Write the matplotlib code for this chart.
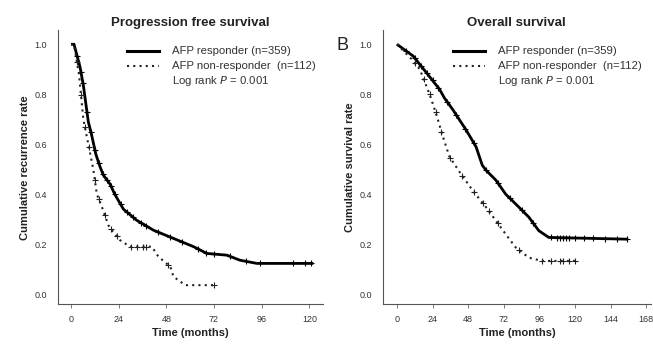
import numpy as np
import matplotlib.pyplot as plt

plt.rcParams['font.family'] = ['Liberation Sans', 'DejaVu Sans']

# Progression free survival (months, rate)
pfs_resp_t = [0, 1.5, 4.5, 6.2, 8.7, 10.4, 12.5, 14.6, 16.3, 19.7, 22, 26.4, 33, 41.5, 51.6, 61.7, 68.4, 78.5, 85, 93.6, 122]
pfs_resp_y = [1.0, 1.0, 0.91, 0.836, 0.69, 0.636, 0.56, 0.51, 0.476, 0.44, 0.40, 0.34, 0.296, 0.256, 0.223, 0.19, 0.163, 0.156, 0.136, 0.123, 0.123]
pfs_non_t = [0, 1.5, 4, 6.2, 8.7, 11.2, 13, 15.5, 18.8, 20.5, 24.7, 29.7, 40.7, 44, 50, 51.6, 57.5, 73.4]
pfs_non_y = [1.0, 1.0, 0.88, 0.70, 0.60, 0.50, 0.40, 0.35, 0.276, 0.256, 0.216, 0.19, 0.19, 0.15, 0.11, 0.07, 0.036, 0.036]
pfs_resp_cens = [3, 5, 6, 8, 10, 12, 14, 16, 18, 20, 22, 25, 28, 31, 35, 38, 44, 50, 56, 64, 68, 72, 80, 88, 95, 112, 118, 121]
pfs_non_cens = [3, 5, 7, 9, 12, 14, 17, 20, 23, 30, 33, 36, 38, 49, 72]

# Overall survival
os_resp_t = [0, 10.9, 19.9, 28.7, 32, 37.7, 46.6, 53.3, 57.5, 60, 66.7, 73.3, 82.2, 88.9, 95.6, 102.3, 155.8]
os_resp_y = [1.0, 0.953, 0.886, 0.82, 0.785, 0.738, 0.657, 0.59, 0.516, 0.496, 0.456, 0.40, 0.348, 0.308, 0.254, 0.227, 0.22]
os_non_t = [0, 10, 15.4, 22, 26.5, 31, 35.4, 42.1, 51, 60, 66.7, 73.3, 80, 88.9, 97.8, 122.3]
os_non_y = [1.0, 0.94, 0.90, 0.80, 0.72, 0.63, 0.55, 0.49, 0.415, 0.348, 0.294, 0.24, 0.187, 0.146, 0.133, 0.133]
os_resp_cens = [6, 12, 16, 20, 24, 28, 34, 40, 46, 52, 60, 68, 76, 84, 92, 104, 108, 110, 112, 114, 116, 120, 126, 132, 140, 148, 155]
os_non_cens = [12, 18, 22, 26, 30, 36, 44, 52, 58, 62, 68, 82, 98, 104, 110, 112, 116, 120]

panels = [
    dict(title='Progression free survival', ylabel='Cumulative recurrence rate',
         resp=(pfs_resp_t, pfs_resp_y, pfs_resp_cens), non=(pfs_non_t, pfs_non_y, pfs_non_cens),
         xticks=[0, 24, 48, 72, 96, 120], xlim=(-6.5, 127), rect=[0.089, 0.126, 0.406, 0.787]),
    dict(title='Overall survival', ylabel='Cumulative survival rate',
         resp=(os_resp_t, os_resp_y, os_resp_cens), non=(os_non_t, os_non_y, os_non_cens),
         xticks=[0, 24, 48, 72, 96, 120, 144, 168], xlim=(-9.4, 171), rect=[0.5865, 0.126, 0.41, 0.787]),
]

txt = '#333333'
fig = plt.figure(figsize=(6.53, 3.48), dpi=100)

for p in panels:
    ax = fig.add_axes(p['rect'])
    t, y, c = p['resp']
    ax.plot(t, y, color='black', lw=2.0, solid_capstyle='butt')
    ax.plot(c, np.interp(c, t, y), '+', color='black', ms=4, mew=0.8)
    t, y, c = p['non']
    ax.plot(t, y, color='#222222', lw=1.5, ls=(0, (1, 2)))
    ax.plot(c, np.interp(c, t, y), '+', color='#222222', ms=4, mew=0.8)

    ax.set_xlim(*p['xlim'])
    ax.set_ylim(-0.04, 1.056)
    ax.set_xticks(p['xticks'])
    ax.set_yticks([0, 0.2, 0.4, 0.6, 0.8, 1.0])
    ax.set_yticklabels(['0.0', '0.2', '0.4', '0.6', '0.8', '1.0'])
    ax.tick_params(axis='x', length=3, width=0.6, colors='#666666', labelsize=6.5, labelcolor=txt, pad=5)
    ax.tick_params(axis='y', length=0, labelsize=6.5, labelcolor=txt, pad=8)
    for s in ['top', 'right']:
        ax.spines[s].set_visible(False)
    for s in ['left', 'bottom']:
        ax.spines[s].set_color('#555555')
        ax.spines[s].set_linewidth(0.8)

    ax.set_title(p['title'], fontsize=9.5, fontweight='bold', color='#222222', pad=3)
    ax.set_xlabel('Time (months)', fontsize=8, fontweight='bold', color='#222222', labelpad=3)
    ax.set_ylabel(p['ylabel'], fontsize=8, fontweight='bold', color='#222222', labelpad=3)

    # legend
    ax.plot([0.26, 0.38], [0.925, 0.925], transform=ax.transAxes, color='black', lw=2.2)
    ax.plot([0.26, 0.38], [0.87, 0.87], transform=ax.transAxes, color='#222222', lw=1.5, ls=(0, (1, 2)))
    ax.text(0.43, 0.925, 'AFP responder (n=359)', transform=ax.transAxes, fontsize=8.2, color=txt, va='center')
    ax.text(0.43, 0.87, 'AFP non-responder  (n=112)', transform=ax.transAxes, fontsize=8.2, color=txt, va='center')
    ax.text(0.43, 0.815, 'Log rank $\\it{P}$ = 0.001', transform=ax.transAxes, fontsize=8.2, color=txt, va='center')

fig.text(0.525, 0.87, 'B', fontsize=13, color='#222222', va='center', ha='center')

fig.savefig('out.png', dpi=100, facecolor='white')
